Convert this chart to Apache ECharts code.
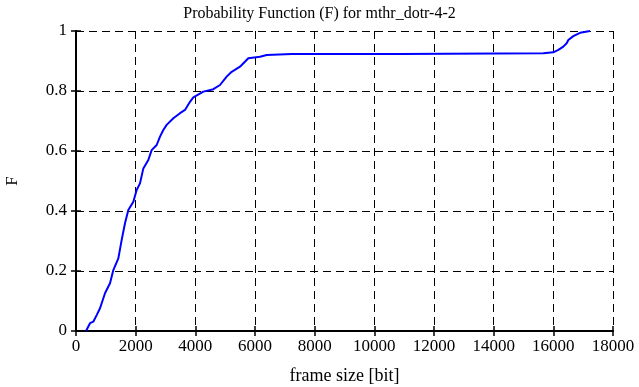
<!DOCTYPE html>
<html><head><meta charset="utf-8">
<script src="https://cdn.jsdelivr.net/npm/echarts@6/dist/echarts.min.js"></script>
<style>html,body{margin:0;padding:0;background:#fff}#c{width:639px;height:387px}</style>
</head><body><div id="c"></div>
<script>
var frameSize = [335,470,580,693,805,972,1140,1251,1419,1530,1642,1754,1922,2033,2145,2257,2424,2536,2704,2816,2927,3039,3263,3486,3654,3821,3933,4268,4603,4827,5050,5218,5497,5776,6168,6392,7230,10860,15664,16000,16167,16335,16447,16503,16670,16894,17230];
var probF = [0,0.026,0.031,0.053,0.076,0.126,0.159,0.203,0.242,0.303,0.359,0.403,0.431,0.47,0.492,0.542,0.57,0.603,0.62,0.648,0.67,0.687,0.709,0.726,0.737,0.764,0.779,0.798,0.806,0.82,0.848,0.864,0.881,0.909,0.914,0.92,0.923,0.923,0.926,0.929,0.937,0.948,0.959,0.97,0.983,0.994,1.0];
var title = 'Probability Function (F) for mthr_dotr-4-2';
var xName = 'frame size [bit]';
var yName = 'F';

var font = 'Liberation Serif';
var pts = frameSize.map(function(x,i){return [x, probF[i]];});
var chart = echarts.init(document.getElementById('c'), null, {renderer:'canvas'});
var dashed = {show:true, lineStyle:{color:'#000', type:[8,5], width:1}};
chart.setOption({
  animation:false,
  backgroundColor:'#fff',
  title:{text:title, left:'center', top:1, textStyle:{fontFamily:font, fontSize:16, fontWeight:'normal', color:'#000'}},
  grid:{left:76, right:26, top:31, bottom:56, show:false, containLabel:false, outerBoundsMode:'none'},
  xAxis:[{type:'value', min:0, max:18000, interval:2000, name:xName, nameLocation:'middle', nameGap:36,
    nameTextStyle:{fontFamily:font, fontSize:18, color:'#000'},
    axisLine:{lineStyle:{color:'#000', width:2}}, axisTick:{inside:true, length:5, lineStyle:{color:'#000', width:1.5}},
    axisLabel:{fontFamily:font, fontSize:17, color:'#000', margin:7, formatter:function(v){return String(v);}}, splitLine:dashed},
    {type:'value', position:'top', min:0, max:18000, interval:2000, axisLine:{lineStyle:{color:'#000', width:2}},
    axisTick:{inside:true, length:5, lineStyle:{color:'#000', width:1.5}}, axisLabel:{show:false}, splitLine:{show:false}}],
  yAxis:[{type:'value', min:0, max:1, interval:0.2, name:yName, nameLocation:'middle', nameGap:55, nameRotate:90,
    nameTextStyle:{fontFamily:font, fontSize:17, color:'#000'},
    axisLine:{show:true, lineStyle:{color:'#000', width:2}}, axisTick:{show:true, inside:true, length:5, lineStyle:{color:'#000', width:1.5}},
    axisLabel:{fontFamily:font, fontSize:17, color:'#000', margin:9, formatter:function(v){return String(v);}}, splitLine:dashed},
    {type:'value', position:'right', min:0, max:1, interval:0.2, axisLine:{show:true, lineStyle:{color:'#000', width:2}},
    axisTick:{show:true, inside:true, length:5, lineStyle:{color:'#000', width:1.5}}, axisLabel:{show:false}, splitLine:{show:false}}],
  series:[{type:'line', data:pts, showSymbol:false, symbol:'none', lineStyle:{color:'#0000ff', width:2}, z:5}]
});
</script></body></html>
